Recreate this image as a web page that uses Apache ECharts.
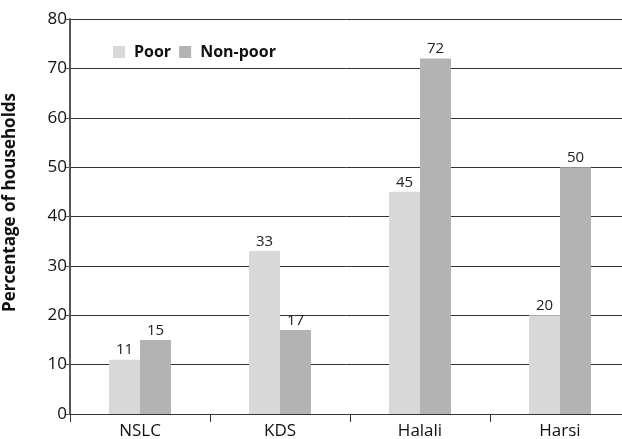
<!DOCTYPE html>
<html>
<head>
<meta charset="utf-8">
<script src="https://cdn.jsdelivr.net/npm/echarts@6/dist/echarts.min.js"></script>
<style>
  html, body { margin: 0; padding: 0; background: #fff; }
  #chart { width: 622px; height: 439px; }
</style>
</head>
<body>
<div id="chart"></div>
<script>
// Survey sites and share of households (%) in each group
const categories = ['NSLC', 'KDS', 'Halali', 'Harsi'];
const poor = [11, 33, 45, 20];
const nonPoor = [15, 17, 72, 50];
const yTicks = [0, 10, 20, 30, 40, 50, 60, 70, 80];

const FONT = '"Open Sans", "Noto Sans", sans-serif';

const chart = echarts.init(document.getElementById('chart'), null, { renderer: 'canvas' });

const labelStyle = {
  show: true,
  position: 'top',
  distance: 2,
  fontFamily: FONT,
  fontSize: 15,
  color: '#222'
};

chart.setOption({
  animation: false,
  backgroundColor: '#fff',
  grid: { left: 70, top: 19, bottom: 25, width: 560, outerBoundsMode: 'none', containLabel: false },
  legend: {
    left: 108,
    top: 39,
    itemWidth: 12,
    itemHeight: 12,
    itemGap: 8,
    icon: 'rect',
    textStyle: { fontFamily: FONT, fontSize: 16, fontWeight: 'bold', color: '#111', padding: [0, 0, 0, 4] },
    data: ['Poor', 'Non-poor']
  },
  xAxis: {
    type: 'category',
    data: categories,
    axisLine: { lineStyle: { color: '#333', width: 1 } },
    axisTick: { show: true, length: 8, lineStyle: { color: '#333' } },
    axisLabel: { fontFamily: FONT, fontSize: 17, color: '#111', margin: 9 }
  },
  yAxis: {
    type: 'value',
    min: yTicks[0],
    max: yTicks[yTicks.length - 1],
    interval: 10,
    name: 'Percentage of households',
    nameLocation: 'middle',
    nameGap: 51,
    nameTextStyle: {
      fontFamily: FONT, fontSize: 17, fontWeight: 'bold', color: '#111',
      padding: [0, 0, 0, 28]
    },
    axisLine: { show: true, lineStyle: { color: '#555', width: 2 } },
    axisTick: { show: true, length: 5, lineStyle: { color: '#555' } },
    axisLabel: { fontFamily: FONT, fontSize: 17, color: '#111', margin: 3 },
    splitLine: { lineStyle: { color: '#333', width: 1 } }
  },
  series: [
    {
      name: 'Poor',
      type: 'bar',
      data: poor,
      barWidth: 31,
      barGap: '0%',
      itemStyle: { color: '#d9d9d9' },
      label: labelStyle
    },
    {
      name: 'Non-poor',
      type: 'bar',
      data: nonPoor,
      barWidth: 31,
      itemStyle: { color: '#b3b3b3' },
      label: labelStyle
    }
  ]
});
</script>
</body>
</html>
